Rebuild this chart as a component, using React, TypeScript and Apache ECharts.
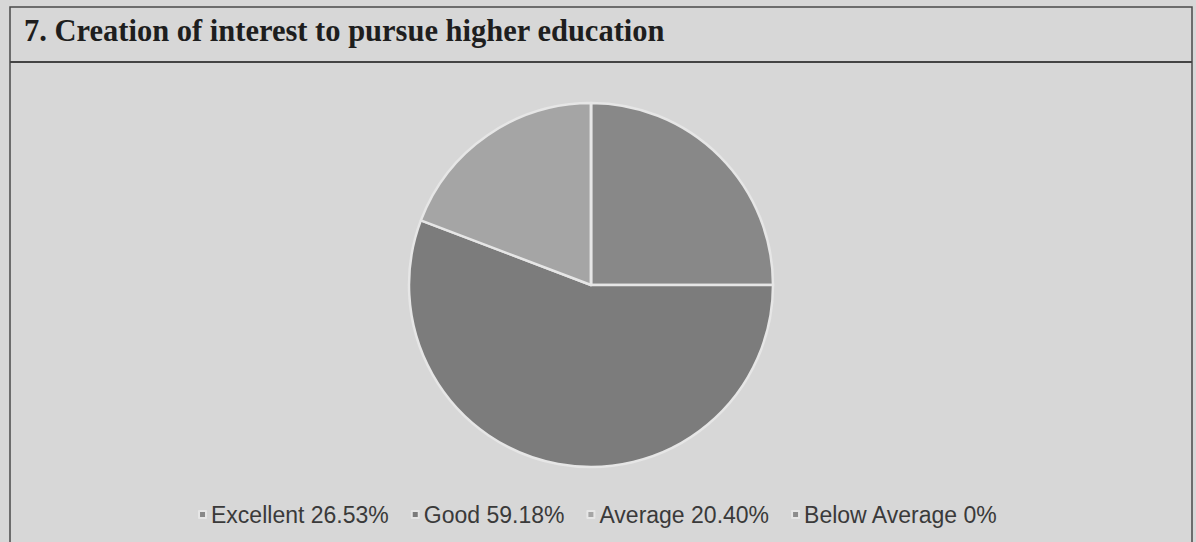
import React, { useEffect, useRef } from "react";
import * as echarts from "echarts";

const titleText = "7. Creation of interest to pursue higher education";
const categories = ["Excellent", "Good", "Average", "Below Average"];
const values = [26.53, 59.18, 20.4, 0];
const valueLabels = ["26.53%", "59.18%", "20.40%", "0%"];
const colors = ["#888888", "#7c7c7c", "#a5a5a5", "#8d8d8d"];

export default function App() {
  const ref = useRef<HTMLDivElement>(null);
  useEffect(() => {
    if (!ref.current) return;
    const chart = echarts.init(ref.current, null, { renderer: "svg" });
    const labelMap: Record<string, string> = {};
    categories.forEach((c, i) => (labelMap[c] = `${c} ${valueLabels[i]}`));
    chart.setOption({
      animation: false,
      backgroundColor: "#d7d7d7",
      title: {
        text: titleText,
        left: 19,
        top: 10,
        textStyle: {
          fontFamily: "Liberation Serif",
          fontWeight: "bold",
          fontSize: 30.5,
          color: "#1e1e1e",
        },
      },
      graphic: [
        {
          type: "rect",
          shape: { x: 10, y: 7, width: 1182, height: 560 },
          style: { fill: "none", stroke: "#4a4a4a", lineWidth: 1.5 },
          silent: true,
        },
        {
          type: "line",
          shape: { x1: 10, y1: 62, x2: 1192, y2: 62 },
          style: { stroke: "#444", lineWidth: 2 },
          silent: true,
        },
      ],
      legend: {
        bottom: 11,
        left: "center",
        itemWidth: 7,
        itemHeight: 7,
        itemGap: 22,
        icon: "rect",
        data: categories,
        formatter: (name: string) => labelMap[name],
        textStyle: {
          fontFamily: "Liberation Sans",
          fontSize: 23,
          color: "#3a3a3a",
        },
      },
      series: [
        {
          type: "pie",
          center: [591, 285],
          radius: 182,
          startAngle: 90,
          clockwise: true,
          label: { show: false },
          labelLine: { show: false },
          itemStyle: { borderColor: "#e6e6e6", borderWidth: 2.5 },
          data: categories.map((c, i) => ({
            name: c,
            value: values[i],
            itemStyle: { color: colors[i] },
          })),
        },
      ],
    });
    return () => chart.dispose();
  }, []);
  return (
    <div
      ref={ref}
      style={{ position: "fixed", left: 0, top: 0, width: 1196, height: 542 }}
    />
  );
}
